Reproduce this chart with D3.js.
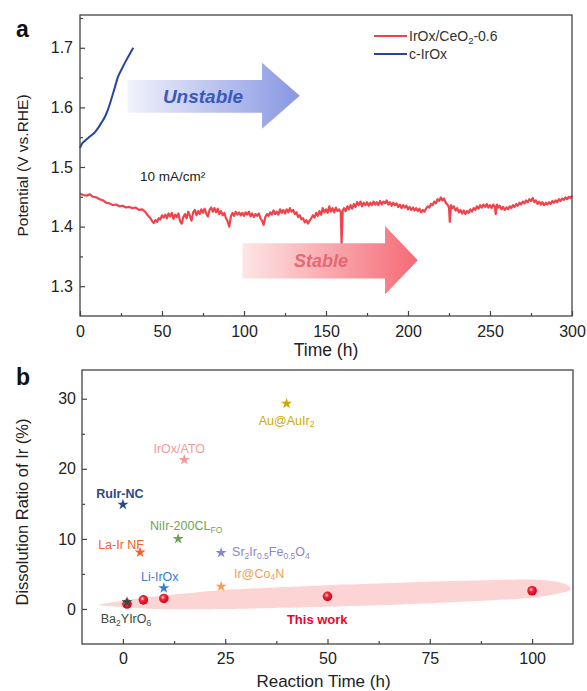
<!DOCTYPE html>
<html>
<head>
<meta charset="utf-8">
<script src="https://cdn.jsdelivr.net/npm/d3@7/dist/d3.min.js"></script>
<style>
  html, body { margin: 0; padding: 0; background: #fff; }
  svg { display: block; font-family: "Liberation Sans", Arial, sans-serif; }
</style>
</head>
<body>
<svg id="chart" width="587" height="691"></svg>
<script>
// ---- Panel a: chronopotentiometry at 10 mA/cm2 ----
const ceo2Series = [
  [0,1.455],[2,1.453],[4,1.452],[6,1.454],[8,1.450],[10,1.449],[12,1.446],[14,1.444],[16,1.440],[18,1.439],
  [20,1.436],[22,1.437],[24,1.434],[26,1.435],[28,1.432],[30,1.433],[32,1.431],[34,1.432],[36,1.428],[38,1.429],
  [40,1.424],[41,1.420],[42,1.417],[43,1.414],[44,1.409],[45,1.406],[46,1.411],[47,1.408],[48,1.414],[49,1.412],
  [50,1.419],[51,1.415],[52,1.420],[53,1.414],[54,1.422],[55,1.417],[56,1.423],[57,1.413],[58,1.420],[59,1.416],
  [60,1.422],[61,1.409],[62,1.405],[63,1.416],[64,1.421],[65,1.414],[66,1.425],[67,1.418],[68,1.410],[69,1.424],
  [70,1.428],[71,1.419],[72,1.426],[73,1.421],[74,1.429],[75,1.423],[76,1.430],[77,1.422],[78,1.417],[79,1.428],
  [80,1.432],[81,1.425],[82,1.431],[83,1.424],[84,1.430],[85,1.421],[86,1.426],[87,1.419],[88,1.423],[89,1.414],
  [90,1.409],[91,1.400],[92,1.417],[93,1.423],[94,1.418],[95,1.425],[96,1.420],[97,1.424],[98,1.419],[99,1.423],
  [100,1.418],[101,1.424],[102,1.420],[103,1.425],[104,1.417],[105,1.422],[106,1.416],[107,1.421],[108,1.418],[109,1.422],
  [110,1.414],[111,1.410],[112,1.403],[113,1.416],[114,1.421],[115,1.418],[116,1.424],[117,1.420],[118,1.427],[119,1.421],
  [120,1.425],[121,1.420],[122,1.429],[123,1.423],[124,1.428],[125,1.422],[126,1.429],[127,1.424],[128,1.431],[129,1.425],
  [130,1.428],[131,1.421],[132,1.424],[133,1.416],[134,1.419],[135,1.412],[136,1.414],[137,1.407],[138,1.411],[139,1.405],
  [140,1.410],[141,1.414],[142,1.419],[143,1.415],[144,1.423],[145,1.418],[146,1.426],[147,1.420],[148,1.431],[149,1.424],
  [150,1.429],[151,1.423],[152,1.434],[153,1.425],[154,1.431],[155,1.424],[156,1.432],[157,1.426],[158,1.429],[159,1.424],
  [159.5,1.373],[160.2,1.427],[161,1.431],[162,1.426],[163,1.434],[164,1.429],[165,1.436],[166,1.430],[167,1.438],[168,1.433],
  [169,1.441],[170,1.436],[171,1.442],[172,1.434],[173,1.440],[174,1.436],[175,1.441],[176,1.435],[177,1.440],[178,1.436],
  [179,1.442],[180,1.437],[181,1.441],[182,1.436],[183,1.443],[184,1.437],[185,1.442],[186,1.439],[187,1.444],[188,1.437],
  [189,1.441],[190,1.435],[191,1.440],[192,1.436],[193,1.439],[194,1.433],[195,1.437],[196,1.431],[197,1.436],[198,1.432],
  [199,1.435],[200,1.429],[201,1.433],[202,1.428],[203,1.432],[204,1.427],[205,1.431],[206,1.426],[207,1.430],[208,1.424],
  [209,1.428],[210,1.425],[211,1.430],[212,1.434],[213,1.432],[214,1.438],[215,1.436],[216,1.442],[217,1.439],[218,1.446],
  [219,1.443],[220,1.449],[221,1.444],[222,1.447],[223,1.440],[224,1.437],[225,1.432],[225.5,1.408],[226.2,1.436],[227,1.431],
  [228,1.434],[229,1.427],[230,1.431],[231,1.424],[232,1.428],[233,1.422],[234,1.427],[235,1.421],[236,1.426],[237,1.423],
  [238,1.429],[239,1.425],[240,1.431],[241,1.428],[242,1.434],[243,1.430],[244,1.436],[245,1.432],[246,1.437],[247,1.433],
  [248,1.438],[249,1.432],[250,1.436],[251,1.431],[252,1.437],[253,1.433],[253.5,1.421],[254.2,1.437],[255,1.432],[256,1.435],
  [257,1.429],[258,1.433],[259,1.428],[260,1.432],[261,1.429],[262,1.434],[263,1.431],[264,1.436],[265,1.433],[266,1.438],
  [267,1.435],[268,1.440],[269,1.437],[270,1.442],[271,1.439],[272,1.444],[273,1.441],[274,1.446],[275,1.443],[276,1.448],
  [277,1.441],[278,1.444],[279,1.438],[280,1.442],[281,1.437],[282,1.441],[283,1.436],[284,1.440],[285,1.437],[286,1.441],
  [287,1.438],[288,1.443],[289,1.440],[290,1.444],[291,1.441],[292,1.446],[293,1.443],[294,1.447],[295,1.445],[296,1.449],
  [297,1.446],[298,1.450],[299,1.448],[300,1.452]
];
const cIrOxSeries = [
  [0,1.532],[1,1.538],[3,1.544],[6,1.551],[9,1.558],[11.2,1.566],[13,1.574],[15,1.583],[16.3,1.591],
  [18,1.604],[20,1.622],[21.3,1.634],[23,1.650],[25.4,1.664],[28,1.678],[30,1.688],[32.5,1.700]
];
const timeTicksA = [0, 50, 100, 150, 200, 250, 300];
const potentialTicks = [1.3, 1.4, 1.5, 1.6, 1.7];
const legendA = ["IrOx/CeO_{2}-0.6", "c-IrOx"];

// ---- Panel b: Ir dissolution ratio vs reaction time ----
const refNames = ["Au@AuIr_{2}", "IrOx/ATO", "RuIr-NC", "NiIr-200CL_{FO}", "La-Ir NF",
                  "Sr_{2}Ir_{0.5}Fe_{0.5}O_{4}", "Li-IrOx", "Ir@Co_{4}N", "Ba_{2}YIrO_{6}"];
const refTimes  = [40, 15, 0, 13.5, 4.2, 24, 10, 24, 1];
const refRatios = [29.3, 21.3, 14.9, 10, 8.1, 8, 3.0, 3.2, 1.0];
const thisWorkTimes  = [1, 5, 10, 50, 100];
const thisWorkRatios = [0.7, 1.3, 1.5, 1.8, 2.6];
const timeTicksB = [0, 25, 50, 75, 100];
const ratioTicks = [0, 10, 20, 30];

// Styling for the reference catalysts (colour, label offset, anchor, weight)
const refStyle = {
  "Au@AuIr_{2}":                 { c: "#cfa800", dx: 0,  dy: 21, a: "middle" },
  "IrOx/ATO":                    { c: "#f29a9a", dx: -5, dy: -7, a: "middle" },
  "RuIr-NC":                     { c: "#2b4a86", dx: -3, dy: -7, a: "middle", w: "bold" },
  "NiIr-200CL_{FO}":             { c: "#6fa35a", dx: 8,  dy: -9, a: "middle" },
  "La-Ir NF":                    { c: "#f2602c", dx: -19, dy: -3, a: "middle" },
  "Sr_{2}Ir_{0.5}Fe_{0.5}O_{4}": { c: "#8a88c4", dx: 11, dy: 3,  a: "start" },
  "Li-IrOx":                     { c: "#3a7bd0", dx: -4, dy: -7, a: "middle" },
  "Ir@Co_{4}N":                  { c: "#f3a055", dx: 13, dy: -9, a: "start" },
  "Ba_{2}YIrO_{6}":              { c: "#3b4a40", dx: -1, dy: 21, a: "middle" }
};

const svg = d3.select("#chart");
const defs = svg.append("defs");
const ink = "#444";

// Write text with "_{...}" parts as subscripts
function richText(sel, str, size) {
  const parts = str.split(/(_\{[^}]*\})/).filter(s => s.length);
  let shift = 0;
  parts.forEach(p => {
    const m = p.match(/^_\{([^}]*)\}$/);
    if (m) {
      sel.append("tspan").attr("font-size", size * 0.68).attr("dy", size * 0.22 - shift).text(m[1]);
      shift = size * 0.22;
    } else {
      sel.append("tspan").attr("dy", -shift).text(p);
      shift = 0;
    }
  });
}

function frame(g, w, h) {
  g.append("rect").attr("width", w).attr("height", h)
    .attr("fill", "none").attr("stroke", ink).attr("stroke-width", 1.3);
}

function styleAxis(g, fs) {
  g.select(".domain").remove();
  g.selectAll(".tick line").attr("stroke", ink).attr("stroke-width", 1.2);
  g.selectAll(".tick text").attr("fill", "#222").attr("font-size", fs)
    .attr("font-family", "Liberation Sans, Arial, sans-serif");
}

// ================= Panel a =================
const A = { x: 80, y: 15, w: 492, h: 301 };
const gA = svg.append("g").attr("transform", `translate(${A.x},${A.y})`);
const xA = d3.scaleLinear().domain([0, 300]).range([0, A.w]);
const yA = d3.scaleLinear().domain([1.25, 1.755]).range([A.h, 0]);

// Gradient arrows
function gradient(id, c0, c1) {
  const lg = defs.append("linearGradient").attr("id", id).attr("x1", "0%").attr("x2", "100%");
  lg.append("stop").attr("offset", "0%").attr("stop-color", c0);
  lg.append("stop").attr("offset", "100%").attr("stop-color", c1);
}
gradient("gUn", "#f1f2fc", "#8797e2");
gradient("gSt", "#fde6e6", "#f56a75");

function arrow(g, x, y, t0, tHead, tTip, vBodyTop, vBodyBot, vHeadTop, vHeadBot, fill) {
  const vMid = (vHeadTop + vHeadBot) / 2;
  const pts = [
    [x(t0), y(vBodyTop)], [x(tHead), y(vBodyTop)], [x(tHead), y(vHeadTop)],
    [x(tTip), y(vMid)], [x(tHead), y(vHeadBot)], [x(tHead), y(vBodyBot)], [x(t0), y(vBodyBot)]
  ];
  g.append("path").attr("d", "M" + pts.join("L") + "Z").attr("fill", fill);
}
arrow(gA, xA, yA, 29, 111, 134, 1.646, 1.591, 1.675, 1.564, "url(#gUn)");
arrow(gA, xA, yA, 99, 186, 206, 1.372, 1.313, 1.401, 1.286, "url(#gSt)");

gA.append("text").attr("x", xA(75)).attr("y", yA(1.619)).attr("dy", "0.35em")
  .attr("text-anchor", "middle").attr("font-size", 19).attr("font-weight", "bold")
  .attr("font-style", "italic").attr("fill", "#3b5ab8").text("Unstable");
gA.append("text").attr("x", xA(147)).attr("y", yA(1.343)).attr("dy", "0.35em")
  .attr("text-anchor", "middle").attr("font-size", 18).attr("font-weight", "bold")
  .attr("font-style", "italic").attr("fill", "#e56a73").text("Stable");

// Axes (inward ticks)
const axA_x = gA.append("g").attr("transform", `translate(0,${A.h})`)
  .call(d3.axisBottom(xA).tickValues(timeTicksA).tickFormat(d3.format("d")).tickSize(-5).tickPadding(10));
styleAxis(axA_x, 16);
const axA_xm = gA.append("g").attr("transform", `translate(0,${A.h})`)
  .call(d3.axisBottom(xA).tickValues([25, 75, 125, 175, 225, 275]).tickFormat("").tickSize(-3));
styleAxis(axA_xm, 16);
const axA_y = gA.append("g")
  .call(d3.axisLeft(yA).tickValues(potentialTicks).tickFormat(d3.format(".1f")).tickSize(-5).tickPadding(7));
styleAxis(axA_y, 16);
const axA_ym = gA.append("g")
  .call(d3.axisLeft(yA).tickValues([1.35, 1.45, 1.55, 1.65, 1.75]).tickFormat("").tickSize(-3));
styleAxis(axA_ym, 16);

// Lines
gA.append("path").datum(ceo2Series).attr("d", d3.line().x(d => xA(d[0])).y(d => yA(d[1])))
  .attr("fill", "none").attr("stroke", "#f0434c").attr("stroke-width", 2.2).attr("stroke-linejoin", "round");
gA.append("path").datum(cIrOxSeries).attr("d", d3.line().x(d => xA(d[0])).y(d => yA(d[1])).curve(d3.curveMonotoneX))
  .attr("fill", "none").attr("stroke", "#27469b").attr("stroke-width", 2);

frame(gA, A.w, A.h);

// Legend
const legColors = ["#f0434c", "#27469b"];
legendA.forEach((name, i) => {
  const ly = 21 + i * 18;
  gA.append("line").attr("x1", 294).attr("x2", 327).attr("y1", ly).attr("y2", ly)
    .attr("stroke", legColors[i]).attr("stroke-width", 2);
  const t = gA.append("text").attr("x", 329).attr("y", ly + 5).attr("font-size", 14).attr("fill", "#333");
  richText(t, name, 14);
});

gA.append("text").attr("x", 60).attr("y", 166).attr("font-size", 13.5).attr("fill", "#222").text("10 mA/cm²");

// Titles
svg.append("text").attr("x", A.x + A.w / 2).attr("y", 356).attr("text-anchor", "middle")
  .attr("font-size", 17.5).attr("fill", "#222").text("Time (h)");
svg.append("text").attr("transform", `translate(28,${A.y + A.h / 2}) rotate(-90)`)
  .attr("text-anchor", "middle").attr("font-size", 15.5).attr("fill", "#222").text("Potential (V vs.RHE)");
svg.append("text").attr("x", 16).attr("y", 37).attr("font-size", 23).attr("font-weight", "bold")
  .attr("fill", "#111").text("a");

// ================= Panel b =================
const B = { x: 82, y: 370, w: 491, h: 274 };
const gB = svg.append("g").attr("transform", `translate(${B.x},${B.y})`);
const xB = d3.scaleLinear().domain([-10, 110]).range([0, B.w]);
const yB = d3.scaleLinear().domain([-5, 34.1]).range([B.h, 0]);

// Highlight band behind this work's points
const bandTop = [[-5, 0.7], [5, 1.6], [25, 2.7], [50, 3.4], [75, 3.9], [100, 4.2], [108, 3.6]];
const bandBot = [[109, 2.6], [100, 1.6], [75, 0.8], [50, 0.3], [25, 0.0], [8, 0.0], [-5, 0.5]];
gB.append("path").datum(bandTop.concat(bandBot))
  .attr("d", d3.line().x(d => xB(d[0])).y(d => yB(d[1])).curve(d3.curveCardinalClosed.tension(0.3)))
  .attr("fill", "#fbcccc").attr("opacity", 0.85);

// Axes
const axB_x = gB.append("g").attr("transform", `translate(0,${B.h})`)
  .call(d3.axisBottom(xB).tickValues(timeTicksB).tickFormat(d3.format("d")).tickSize(-5).tickPadding(9));
styleAxis(axB_x, 16);
const axB_xm = gB.append("g").attr("transform", `translate(0,${B.h})`)
  .call(d3.axisBottom(xB).tickValues([12.5, 37.5, 62.5, 87.5]).tickFormat("").tickSize(-3));
styleAxis(axB_xm, 16);
const axB_y = gB.append("g")
  .call(d3.axisLeft(yB).tickValues(ratioTicks).tickFormat(d3.format("d")).tickSize(-5).tickPadding(6));
styleAxis(axB_y, 16);
const axB_ym = gB.append("g")
  .call(d3.axisLeft(yB).tickValues([5, 15, 25]).tickFormat("").tickSize(-3));
styleAxis(axB_ym, 16);

frame(gB, B.w, B.h);

// This work: shaded red spheres
const rg = defs.append("radialGradient").attr("id", "ball").attr("cx", "40%").attr("cy", "38%").attr("r", "65%");
rg.append("stop").attr("offset", "0%").attr("stop-color", "#ffd9dc");
rg.append("stop").attr("offset", "35%").attr("stop-color", "#f2283a");
rg.append("stop").attr("offset", "100%").attr("stop-color", "#c8001c");
gB.selectAll("circle.work").data(thisWorkTimes).join("circle").attr("class", "work")
  .attr("cx", d => xB(d)).attr("cy", (d, i) => yB(thisWorkRatios[i])).attr("r", 4.8)
  .attr("fill", "url(#ball)");

// Reference catalysts: stars + labels
const star = d3.symbol().type(d3.symbolStar).size(38);
refNames.forEach((name, i) => {
  const s = refStyle[name];
  const px = xB(refTimes[i]), py = yB(refRatios[i]);
  gB.append("path").attr("d", star).attr("transform", `translate(${px},${py})`).attr("fill", s.c);
  const t = gB.append("text").attr("x", px + s.dx).attr("y", py + s.dy)
    .attr("text-anchor", s.a).attr("font-size", 12.5).attr("fill", s.c)
    .attr("font-weight", s.w || "normal");
  richText(t, name, 12.5);
});

gB.append("text").attr("x", xB(47.5)).attr("y", yB(-2.2)).attr("text-anchor", "middle")
  .attr("font-size", 13).attr("font-weight", "bold").attr("fill", "#e8062c").text("This work");

// Titles
svg.append("text").attr("x", B.x + B.w / 2 - 4).attr("y", 687).attr("text-anchor", "middle")
  .attr("font-size", 17).attr("fill", "#222").text("Reaction Time (h)");
svg.append("text").attr("transform", `translate(28,${B.y + 142}) rotate(-90)`)
  .attr("text-anchor", "middle").attr("font-size", 16.5).attr("fill", "#222").text("Dissolution Ratio of Ir (%)");
svg.append("text").attr("x", 16).attr("y", 385).attr("font-size", 23).attr("font-weight", "bold")
  .attr("fill", "#111").text("b");
</script>
</body>
</html>
